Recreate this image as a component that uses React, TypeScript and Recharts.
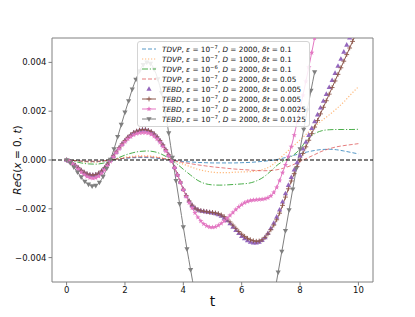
import React from "react";
import { LineChart, Line, XAxis, YAxis, ReferenceLine, ReferenceArea, Label } from "recharts";

// All G values are stored in units of 1e-3.
const T_FINE = Array.from({ length: 101 }, (_, i) => +(i * 0.1).toFixed(1));
const T_COARSE = Array.from({ length: 41 }, (_, i) => i * 0.25);
const T_GRAY = Array.from({ length: 69 }, (_, i) => i * 0.125);

const X_TICKS = [0, 2, 4, 6, 8, 10];
const Y_TICKS = [-4, -2, 0, 2, 4];

const TDVP_BLUE = [
  0, -0.02, -0.05, -0.07, -0.07, -0.05, 0.0, 0.04, 0.07, 0.09, 0.1, 0.1, 0.08, 0.05, 0.01, -0.03,
  -0.06, -0.08, -0.1, -0.11, -0.12, -0.12, -0.12, -0.12, -0.11, -0.1, -0.08, -0.05, -0.02, 0.03,
  0.1, 0.18, 0.26, 0.33, 0.39, 0.43, 0.44, 0.42, 0.37, 0.31, 0.25,
];
const TDVP_ORANGE = [
  0, -0.02, -0.06, -0.09, -0.09, -0.06, 0.0, 0.06, 0.11, 0.15, 0.17, 0.17, 0.14, 0.09, 0.02, -0.07,
  -0.17, -0.28, -0.38, -0.45, -0.5, -0.52, -0.52, -0.5, -0.49, -0.48, -0.45, -0.38, -0.25, 0.0,
  0.28, 0.55, 0.82, 1.1, 1.38, 1.62, 1.85, 2.1, 2.38, 2.7, 3.0,
];
const TDVP_GREEN = [
  0, -0.05, -0.12, -0.16, -0.17, -0.13, -0.04, 0.08, 0.2, 0.29, 0.35, 0.37, 0.34, 0.24, 0.08, -0.13,
  -0.38, -0.62, -0.84, -0.97, -1.02, -1.03, -1.02, -1.0, -0.98, -0.95, -0.86, -0.7, -0.45, -0.18,
  0.0, 0.18, 0.45, 0.85, 1.08, 1.2, 1.24, 1.25, 1.25, 1.25, 1.26,
];
const TDVP_RED = [
  0, -0.02, -0.04, -0.05, -0.05, -0.03, 0.0, 0.04, 0.08, 0.11, 0.13, 0.13, 0.11, 0.07, 0.02, -0.04,
  -0.1, -0.15, -0.2, -0.24, -0.28, -0.31, -0.34, -0.37, -0.39, -0.41, -0.43, -0.44, -0.43, -0.39,
  -0.31, -0.2, -0.06, 0.08, 0.22, 0.36, 0.46, 0.54, 0.59, 0.63, 0.67,
];

const TEBD_BROWN = [
  0, -0.05, -0.13, -0.22, -0.32, -0.42, -0.5, -0.57, -0.61, -0.62, -0.6, -0.54, -0.45, -0.32, -0.17,
  -0.01, 0.16, 0.33, 0.5, 0.66, 0.8, 0.93, 1.03, 1.12, 1.18, 1.22, 1.24, 1.24, 1.21, 1.16, 1.07,
  0.95, 0.8, 0.62, 0.42, 0.21, -0.02, -0.3, -0.6, -0.9, -1.2, -1.46, -1.68, -1.85, -1.97, -2.04,
  -2.08, -2.1, -2.12, -2.14, -2.15, -2.17, -2.2, -2.25, -2.32, -2.42, -2.54, -2.67, -2.8, -2.93,
  -3.04, -3.13, -3.21, -3.27, -3.31, -3.33, -3.32, -3.27, -3.17, -3.03, -2.86, -2.67, -2.45, -2.18,
  -1.86, -1.52, -1.18, -0.86, -0.56, -0.27, 0.0, 0.27, 0.54, 0.81, 1.08, 1.35, 1.62, 1.89, 2.16,
  2.43, 2.7, 2.97, 3.24, 3.51, 3.78, 4.05, 4.32, 4.59, 4.86, 5.13, 5.4,
];
const TEBD_PURPLE = [
  0, -0.05, -0.13, -0.22, -0.32, -0.42, -0.5, -0.57, -0.61, -0.62, -0.6, -0.54, -0.45, -0.32, -0.17,
  -0.01, 0.16, 0.33, 0.5, 0.66, 0.8, 0.93, 1.03, 1.12, 1.18, 1.22, 1.24, 1.24, 1.21, 1.16, 1.07,
  0.95, 0.8, 0.62, 0.42, 0.21, -0.02, -0.3, -0.6, -0.9, -1.2, -1.46, -1.68, -1.85, -1.97, -2.04,
  -2.08, -2.1, -2.12, -2.14, -2.16, -2.19, -2.23, -2.29, -2.37, -2.48, -2.6, -2.74, -2.88, -3.0,
  -3.12, -3.22, -3.3, -3.36, -3.39, -3.39, -3.36, -3.29, -3.17, -3.0, -2.8, -2.58, -2.33, -2.04,
  -1.71, -1.37, -1.03, -0.71, -0.4, -0.1, 0.18, 0.46, 0.74, 1.02, 1.3, 1.58, 1.86, 2.14, 2.42, 2.7,
  2.98, 3.27, 3.56, 3.85, 4.14, 4.43, 4.72, 5.01, 5.3, 5.59, 5.88,
];
const TEBD_PINK = [
  0, -0.06, -0.15, -0.26, -0.38, -0.5, -0.6, -0.68, -0.73, -0.75, -0.73, -0.67, -0.56, -0.41, -0.24,
  -0.06, 0.12, 0.3, 0.46, 0.61, 0.74, 0.86, 0.95, 1.03, 1.08, 1.11, 1.12, 1.12, 1.1, 1.05, 0.97,
  0.86, 0.72, 0.55, 0.37, 0.17, -0.05, -0.32, -0.62, -0.92, -1.22, -1.5, -1.75, -1.97, -2.17, -2.35,
  -2.5, -2.62, -2.7, -2.75, -2.76, -2.74, -2.68, -2.6, -2.5, -2.39, -2.27, -2.15, -2.03, -1.92,
  -1.83, -1.75, -1.7, -1.66, -1.64, -1.63, -1.62, -1.61, -1.59, -1.55, -1.47, -1.33, -1.12, -0.84,
  -0.52, -0.2, 0.14, 0.55, 1.02, 1.55, 2.1, 2.65, 3.22, 3.8, 4.4, 5.0, 5.6, 6.2, 6.8, 7.4, 8.0,
];
const TEBD_GRAY = [
  0, -0.12, -0.3, -0.5, -0.7, -0.88, -1.0, -1.07, -1.05, -0.92, -0.68, -0.35, 0.02, 0.45, 0.95, 1.45,
  1.95, 2.42, 2.9, 3.3, 3.65, 3.9, 4.0, 3.95, 3.72, 3.32, 2.75, 2.0, 1.1, 0.1, -0.85, -1.8, -2.75,
  -3.65, -4.5, -5.35, -6.15, -6.9, -7.55, -8.1, -8.6, -9.0, -9.35, -9.6, -9.8, -9.9, -9.95, -9.9,
  -9.8, -9.65, -9.4, -9.1, -8.7, -8.25, -7.7, -7.05, -6.3, -5.45, -4.6, -3.75, -2.9, -2.05, -1.2,
  -0.35, 0.45, 1.25, 2.05, 2.85, 3.6,
];

const pairs = (t: number[], v: number[]) => v.map((val, i) => ({ t: t[i], v: val }));

const FONT = "'DejaVu Sans', sans-serif";
const FRAME = "#808080";

type DotProps = { cx?: number; cy?: number; index?: number };

function triUp(color: string) {
  return ({ cx, cy, index }: DotProps) =>
    cx == null || cy == null ? (
      <g key={`u${index}`} />
    ) : (
      <path key={`u${index}`} d={`M${cx},${cy - 2.8}L${cx + 2.6},${cy + 1.8}L${cx - 2.6},${cy + 1.8}Z`} fill={color} />
    );
}
function triDown(color: string) {
  return ({ cx, cy, index }: DotProps) =>
    cx == null || cy == null ? (
      <g key={`d${index}`} />
    ) : (
      <path key={`d${index}`} d={`M${cx},${cy + 2.8}L${cx + 2.6},${cy - 1.8}L${cx - 2.6},${cy - 1.8}Z`} fill={color} />
    );
}
function plus(color: string) {
  return ({ cx, cy, index }: DotProps) =>
    cx == null || cy == null ? (
      <g key={`p${index}`} />
    ) : (
      <path key={`p${index}`} d={`M${cx - 2.4},${cy}H${cx + 2.4}M${cx},${cy - 2.4}V${cy + 2.4}`} stroke={color} strokeWidth={0.9} />
    );
}
function starPath(cx: number, cy: number, r: number) {
  let d = "";
  for (let k = 0; k < 10; k++) {
    const rr = k % 2 === 0 ? r : r * 0.42;
    const a = -Math.PI / 2 + (k * Math.PI) / 5;
    d += `${k === 0 ? "M" : "L"}${cx + rr * Math.cos(a)},${cy + rr * Math.sin(a)}`;
  }
  return d + "Z";
}
function star(color: string) {
  return ({ cx, cy, index }: DotProps) =>
    cx == null || cy == null ? <g key={`s${index}`} /> : <path key={`s${index}`} d={starPath(cx, cy, 2.8)} fill={color} />;
}

const fmtY = (v: number) => (v < 0 ? "\u2212" : "") + (Math.abs(v) / 1000).toFixed(3);

const LEGEND = [
  { m: "TDVP", e: "\u22127", d: "2000", dt: "0.1", color: "#1f77b4", dash: "4 2", w: 1, mk: null, op: 0.75 },
  { m: "TDVP", e: "\u22127", d: "1000", dt: "0.1", color: "#ff7f0e", dash: "1.2 1.8", w: 1.2, mk: null, op: 0.55 },
  { m: "TDVP", e: "\u22126", d: "2000", dt: "0.1", color: "#2ca02c", dash: "6 1.8 1.2 1.8", w: 1, mk: null, op: 0.85 },
  { m: "TDVP", e: "\u22127", d: "2000", dt: "0.05", color: "#d62728", dash: "4 2", w: 1, mk: null, op: 0.6 },
  { m: "TEBD", e: "\u22127", d: "2000", dt: "0.005", color: "#9467bd", dash: "", w: 0, mk: "up", op: 1 },
  { m: "TEBD", e: "\u22127", d: "2000", dt: "0.005", color: "#8c564b", dash: "", w: 1, mk: "plus", op: 1 },
  { m: "TEBD", e: "\u22127", d: "2000", dt: "0.0025", color: "#e377c2", dash: "", w: 1, mk: "star", op: 1 },
  { m: "TEBD", e: "\u22127", d: "2000", dt: "0.0125", color: "#7f7f7f", dash: "", w: 1, mk: "down", op: 1 },
];

function LegendBox() {
  return (
    <div
      style={{
        position: "absolute",
        left: 137,
        top: 41,
        padding: "2px 3px 2px 0",
        border: "1px solid #d4d4d4",
        borderRadius: 3,
        background: "rgba(255,255,255,0.85)",
        fontFamily: FONT,
        fontSize: 7.3,
        color: "#111",
      }}
    >
      {LEGEND.map((it, i) => (
        <div key={i} style={{ height: 10, display: "flex", alignItems: "center", whiteSpace: "nowrap" }}>
          <svg width={16} height={10} style={{ marginLeft: 3, marginRight: 5, flex: "none" }}>
            {it.w > 0 && (
              <line x1={1} x2={15} y1={5} y2={5} stroke={it.color} strokeWidth={it.w} strokeDasharray={it.dash} opacity={it.op} />
            )}
            {it.mk === "up" && triUp(it.color)({ cx: 8, cy: 5, index: 0 })}
            {it.mk === "down" && triDown(it.color)({ cx: 8, cy: 5, index: 0 })}
            {it.mk === "plus" && plus(it.color)({ cx: 8, cy: 5, index: 0 })}
            {it.mk === "star" && star(it.color)({ cx: 8, cy: 5, index: 0 })}
          </svg>
          <span>
            <i>{it.m}</i>, <i>ε</i> = 10
            <span style={{ fontSize: 5.2, position: "relative", top: -3 }}>{it.e}</span>, <i>D</i> = {it.d}, <i>δt</i> = {it.dt}
          </span>
        </div>
      ))}
    </div>
  );
}

export default function App() {
  return (
    <div style={{ position: "absolute", left: 0, top: 0, width: 415, height: 317, background: "#fff" }}>
      <LineChart width={415} height={317} margin={{ top: 38, right: 42, bottom: 0, left: 0 }}>
        <XAxis
          dataKey="t"
          type="number"
          domain={[-0.5, 10.5]}
          ticks={X_TICKS}
          allowDataOverflow
          axisLine={false}
          tickSize={3.5}
          tickMargin={1}
          tickLine={{ stroke: FRAME }}
          tick={{ fontSize: 8.5, fill: "#111", fontFamily: FONT }}
          height={35}
        >
          <Label value="t" position="insideBottom" offset={11} style={{ fontSize: 14, fontFamily: FONT, fill: "#111" }} />
        </XAxis>
        <YAxis
          type="number"
          domain={[-5, 5]}
          ticks={Y_TICKS}
          allowDataOverflow
          axisLine={false}
          tickSize={3.5}
          tickMargin={2}
          tickLine={{ stroke: FRAME }}
          tick={{ fontSize: 8.5, fill: "#111", fontFamily: FONT }}
          tickFormatter={fmtY}
          width={52}
        >
          <Label
            content={({ viewBox }: any) => {
              const cy = viewBox.y + viewBox.height / 2;
              const cx = 17;
              return (
                <text
                  x={cx}
                  y={cy}
                  transform={`rotate(-90 ${cx} ${cy})`}
                  textAnchor="middle"
                  dominantBaseline="central"
                  style={{ fontSize: 10.5, fontFamily: FONT, fill: "#111" }}
                >
                  <tspan fontStyle="italic">ReG</tspan>(<tspan fontStyle="italic">x</tspan> = 0, <tspan fontStyle="italic">t</tspan>)
                </text>
              );
            }}
          />
        </YAxis>

        <Line data={pairs(T_COARSE, TDVP_BLUE)} dataKey="v" type="monotone" stroke="#1f77b4" strokeOpacity={0.75} strokeWidth={1} strokeDasharray="4 2" dot={false} isAnimationActive={false} />
        <Line data={pairs(T_COARSE, TDVP_ORANGE)} dataKey="v" type="monotone" stroke="#ff7f0e" strokeOpacity={0.55} strokeWidth={1.2} strokeDasharray="1.2 1.8" dot={false} isAnimationActive={false} />
        <Line data={pairs(T_COARSE, TDVP_GREEN)} dataKey="v" type="monotone" stroke="#2ca02c" strokeOpacity={0.85} strokeWidth={1} strokeDasharray="6 1.8 1.2 1.8" dot={false} isAnimationActive={false} />
        <Line data={pairs(T_COARSE, TDVP_RED)} dataKey="v" type="monotone" stroke="#d62728" strokeOpacity={0.6} strokeWidth={1} strokeDasharray="4 2" dot={false} isAnimationActive={false} />

        <Line data={pairs(T_FINE, TEBD_PURPLE)} dataKey="v" stroke="none" dot={triUp("#9467bd")} activeDot={false} isAnimationActive={false} />
        <Line data={pairs(T_FINE, TEBD_BROWN)} dataKey="v" type="monotone" stroke="#8c564b" strokeWidth={1} dot={plus("#8c564b")} activeDot={false} isAnimationActive={false} />
        <Line data={pairs(T_FINE, TEBD_PINK)} dataKey="v" type="monotone" stroke="#e377c2" strokeWidth={1} dot={star("#e377c2")} activeDot={false} isAnimationActive={false} />
        <Line data={pairs(T_GRAY, TEBD_GRAY)} dataKey="v" type="monotone" stroke="#7f7f7f" strokeWidth={1} dot={triDown("#7f7f7f")} activeDot={false} isAnimationActive={false} />

        <ReferenceLine y={0} stroke="#000" strokeWidth={1} strokeDasharray="4 2" />
        <ReferenceArea x1={-0.5} x2={10.5} y1={-5} y2={5} fill="none" stroke={FRAME} strokeWidth={1} />
      </LineChart>
      <LegendBox />
    </div>
  );
}
